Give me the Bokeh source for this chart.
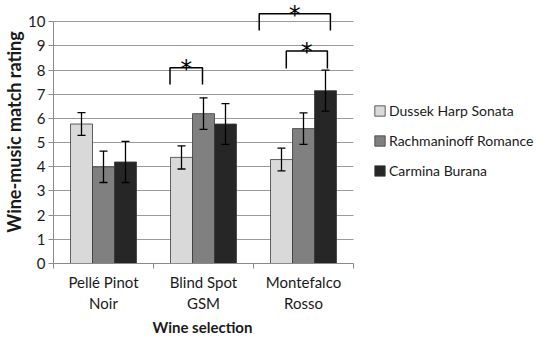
from bokeh.plotting import figure
from bokeh.models import ColumnDataSource, FixedTicker, Legend, LegendItem, Whisker, Range1d, TeeHead, Title
from bokeh.core.properties import value
from bokeh.embed import file_html
from bokeh.resources import INLINE

wines = ["Pellé Pinot\nNoir", "Blind Spot\nGSM", "Montefalco\nRosso"]
pieces = ["Dussek Harp Sonata", "Rachmaninoff Romance", "Carmina Burana"]
dussek = [5.77, 4.39, 4.30]
rachmaninoff = [4.00, 6.20, 5.58]
carmina = [4.20, 5.77, 7.15]
dussek_err = [0.47, 0.48, 0.47]
rachmaninoff_err = [0.65, 0.65, 0.65]
carmina_err = [0.85, 0.84, 0.85]
y_ticks = list(range(0, 11))

# significance brackets (x in category units, y in rating units)
br_left = [1.165, 2.328, 2.057]
br_right = [1.49, 2.739, 2.769]
br_top = [8.10, 8.79, 10.33]
br_foot = [7.40, 8.07, 9.64]

series = [dussek, rachmaninoff, carmina]
errors = [dussek_err, rachmaninoff_err, carmina_err]
colors = ["#d9d9d9", "#808080", "#262626"]
bar_w = 0.22
FONT = "Lato"
n_cat = len(wines)

# frame extends to the right so that the legend sits inside it
p = figure(frame_width=488, frame_height=263, x_range=Range1d(0, 4.88), y_range=Range1d(0, 10.88),
           output_backend="svg", toolbar_location=None, title=None,
           min_border_left=46, min_border_right=0, min_border_top=0, min_border_bottom=66)
p.outline_line_color = None
p.background_fill_color = "white"

items = []
for i, (vals, errs) in enumerate(zip(series, errors)):
    off = (i - 1) * bar_w
    xs = [j + 0.5 + off for j in range(n_cat)]
    src = ColumnDataSource(dict(x=xs, top=vals,
                                upper=[v + e for v, e in zip(vals, errs)],
                                lower=[v - e for v, e in zip(vals, errs)]))
    r = p.vbar(x="x", top="top", width=bar_w, bottom=0, source=src,
               fill_color=colors[i], line_color="#3a3a3a", line_width=0.8)
    items.append(LegendItem(label=pieces[i], renderers=[r]))
    w = Whisker(base="x", upper="upper", lower="lower", source=src, level="overlay",
                line_color="black", line_width=1.3,
                upper_head=TeeHead(size=8, line_width=1.3, line_color="black"),
                lower_head=TeeHead(size=8, line_width=1.3, line_color="black"))
    p.add_layout(w)

# brackets
bxs = [[l, l, r, r] for l, r in zip(br_left, br_right)]
bys = [[f, t, t, f] for t, f in zip(br_top, br_foot)]
p.multi_line(xs=bxs, ys=bys, line_color="black", line_width=1.5)
star_x = [(l + r) / 2 for l, r in zip(br_left, br_right)]
p.text(x=star_x, y=br_top, text=["*"] * len(star_x), text_font=value("DejaVu Sans"),
       text_font_size="24px", text_align="center", text_baseline="alphabetic",
       y_offset=1, text_color="black")

# grid
p.xgrid.visible = False
p.ygrid.ticker = FixedTicker(ticks=y_ticks)
p.ygrid.cross_bounds = (0, n_cat)
p.ygrid.grid_line_color = "#9a9a9a"
p.ygrid.grid_line_width = 1

ya = p.yaxis[0]
ya.ticker = FixedTicker(ticks=y_ticks)
ya.bounds = (0, 10)
ya.axis_line_color = "#8a8a8a"
ya.major_tick_line_color = "#8a8a8a"
ya.major_tick_out = 5
ya.major_tick_in = 0
ya.minor_tick_line_color = None
ya.major_label_text_font = FONT
ya.major_label_text_font_size = "15px"
ya.major_label_text_color = "#1a1a1a"
ya.major_label_standoff = 3
ya.axis_label = "Wine-music match rating"
ya.axis_label_text_font = FONT
ya.axis_label_text_font_style = "bold"
ya.axis_label_text_font_size = "18px"
ya.axis_label_text_color = "#1a1a1a"
ya.axis_label_standoff = 0

xa = p.xaxis[0]
xa.bounds = (0, n_cat)
xa.ticker = FixedTicker(ticks=[j + 0.5 for j in range(n_cat)],
                        minor_ticks=list(range(n_cat + 1)))
xa.major_label_overrides = {j + 0.5: w for j, w in enumerate(wines)}
xa.axis_line_color = "#8a8a8a"
xa.major_tick_line_color = None
xa.minor_tick_line_color = "#8a8a8a"
xa.minor_tick_out = 5
xa.minor_tick_in = 0
xa.major_label_text_font = FONT
xa.major_label_text_font_size = "15px"
xa.major_label_text_color = "#1a1a1a"
xa.major_label_standoff = 3

# x-axis title, placed under the category area (not the whole frame)
p.add_layout(Title(text="Wine selection", align="left", offset=99, standoff=0,
                   text_font=FONT, text_font_style="bold", text_font_size="15px",
                   text_color="#1a1a1a"), "below")

legend = Legend(items=items, location=(320, 83), margin=0, padding=0, spacing=10,
                glyph_width=13, glyph_height=13, label_standoff=3, label_height=20,
                background_fill_alpha=0, border_line_color=None,
                label_text_font=FONT, label_text_font_size="14px", label_text_color="#1a1a1a")
p.add_layout(legend, "center")

open("out.html", "w").write(file_html(p, INLINE))
